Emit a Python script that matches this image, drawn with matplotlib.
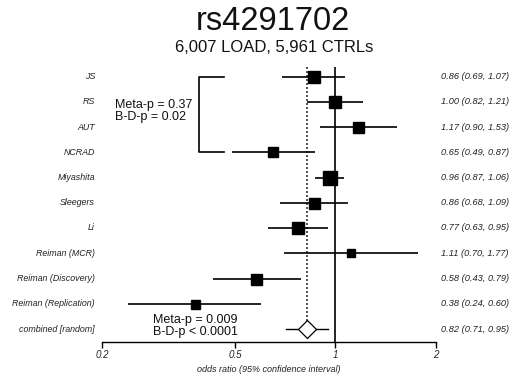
import matplotlib
matplotlib.use("Agg")
import matplotlib.pyplot as plt
import matplotlib.transforms as mtransforms
from matplotlib.path import Path
import numpy as np

plt.rcParams['font.family'] = ['Liberation Sans', 'DejaVu Sans']

studies = ["JS", "RS", "AUT", "NCRAD", "Miyashita", "Sleegers", "Li",
           "Reiman (MCR)", "Reiman (Discovery)", "Reiman (Replication)"]
odds = [0.86, 1.00, 1.17, 0.65, 0.96, 0.86, 0.77, 1.11, 0.58, 0.38]
lower = [0.69, 0.82, 0.90, 0.49, 0.87, 0.68, 0.63, 0.70, 0.43, 0.24]
upper = [1.07, 1.21, 1.53, 0.87, 1.06, 1.09, 0.95, 1.77, 0.79, 0.60]
box_px = [12, 12, 11, 9.5, 14, 11, 12.5, 8, 11, 9]   # square size (weights)

combined_label = "combined [random]"
combined = (0.82, 0.71, 0.95)

xticks = [0.2, 0.5, 1, 2]
xtick_labels = ["0.2", "0.5", "1", "2"]

title = "rs4291702"
subtitle = "6,007 LOAD, 5,961 CTRLs"
xlabel = "odds ratio (95% confidence interval)"
meta_top = "Meta-p = 0.37\nB-D-p = 0.02"
meta_bottom = "Meta-p = 0.009\nB-D-p < 0.0001"

W, H = 511, 379
fig = plt.figure(figsize=(W / 100, H / 100), dpi=100)

def fx(px):
    return px / W

def fy(py):
    return 1 - py / H

ax_left, ax_right, ax_top, ax_bot = 102, 436, 67, 342
ax = fig.add_axes([fx(ax_left), fy(ax_bot), (ax_right - ax_left) / W, (ax_bot - ax_top) / H])
ax.set_xscale('log')
ax.set_xlim(0.2, 2)
n = len(studies) + 1
row_px = 25.25
first_row = 76.5
ax.set_ylim((ax_bot - first_row) / row_px, (ax_top - first_row) / row_px)

PT = 0.72  # points per pixel at 100 dpi
ys = np.arange(len(studies))
for y, o, lo, hi, b in zip(ys, odds, lower, upper, box_px):
    ax.plot([lo, hi], [y, y], color='black', lw=1.2, solid_capstyle='butt', zorder=2)
    ax.plot([o], [y], marker='s', color='black', markersize=b * PT, zorder=3)

cy = len(studies)
ax.plot([combined[1], combined[2]], [cy, cy], color='black', lw=1.0, zorder=2)
diamond = Path([(0, 1), (1, 0), (0, -1), (-1, 0), (0, 1)],
               [Path.MOVETO, Path.LINETO, Path.LINETO, Path.LINETO, Path.CLOSEPOLY])
ax.plot([combined[0]], [cy], marker=diamond, markersize=18 * PT, markerfacecolor='white',
        markeredgecolor='black', markeredgewidth=0.9, zorder=4)

ylo, yhi = ax.get_ylim()
ax.plot([1, 1], [ylo, yhi], color='black', lw=1.2, zorder=1)
ax.plot([combined[0], combined[0]], [cy, yhi], color='#333333', lw=1.2,
        linestyle=(0, (1.2, 1.2)), zorder=1)

for s in ['top', 'right', 'left']:
    ax.spines[s].set_visible(False)
ax.spines['bottom'].set_linewidth(1.0)
ax.set_yticks([])
ax.set_xticks(xticks)
ax.set_xticklabels(xtick_labels, fontsize=7, style='italic', color='#222222')
ax.xaxis.set_minor_locator(matplotlib.ticker.NullLocator())
ax.tick_params(axis='x', direction='out', length=4, width=1.0, pad=2)
ax.patch.set_alpha(0)

trans = mtransforms.blended_transform_factory(fig.transFigure, ax.transData)
labels = studies + [combined_label]
right_texts = [f"{o:.2f} ({lo:.2f}, {hi:.2f})" for o, lo, hi in zip(odds, lower, upper)]
right_texts.append(f"{combined[0]:.2f} ({combined[1]:.2f}, {combined[2]:.2f})")
for i, (lab, rt) in enumerate(zip(labels, right_texts)):
    ax.text(fx(95), i, lab, transform=trans, ha='right', va='center', fontsize=6.4,
            style='italic', color='#222222', clip_on=False)
    ax.text(fx(441), i, rt, transform=trans, ha='left', va='center', fontsize=6.7,
            style='italic', color='#222222', clip_on=False)

# bracket
bx0, bx1 = fx(199), fx(224)
ax.plot([bx1, bx0, bx0, bx1], [0, 0, 3, 3], transform=trans, color='black', lw=1.2,
        clip_on=False)

fig.text(fx(115), fy(111), meta_top, ha='left', va='center', fontsize=9,
         linespacing=1.0, color='#111111')
fig.text(fx(153), fy(326), meta_bottom, ha='left', va='center', fontsize=9,
         linespacing=1.0, color='#111111')

fig.text(fx(272.5), fy(22), title, ha='center', va='center', fontsize=23.5, color='#111111')
fig.text(fx(274), fy(47), subtitle, ha='center', va='center', fontsize=12, color='#111111')
fig.text(fx(269), fy(369), xlabel, ha='center', va='center', fontsize=6.5,
         style='italic', color='#222222')

fig.savefig("out.png", dpi=100)
